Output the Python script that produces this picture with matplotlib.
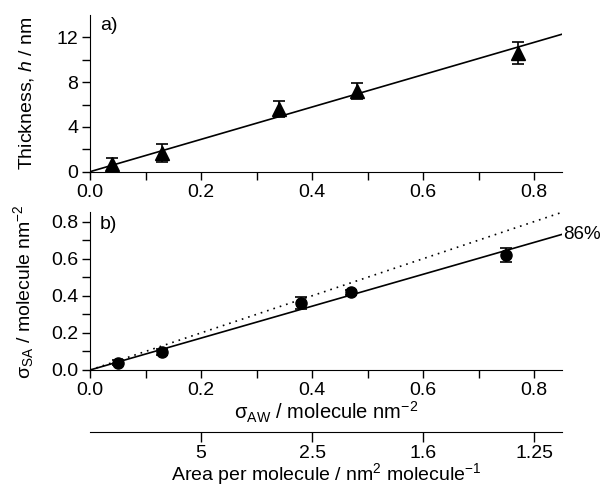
import matplotlib
matplotlib.use("Agg")
import matplotlib.pyplot as plt
import numpy as np

plt.rcParams['font.family'] = ['Liberation Sans', 'DejaVu Sans']
plt.rcParams['mathtext.fontset'] = 'custom'
plt.rcParams['mathtext.rm'] = 'Liberation Sans'
plt.rcParams['mathtext.it'] = 'Liberation Sans:italic'
plt.rcParams['mathtext.sf'] = 'Liberation Sans'
plt.rcParams['font.size'] = 14

# ---- data ----
sigma_aw_a = [0.04, 0.13, 0.34, 0.48, 0.77]
thickness = [0.7, 1.7, 5.6, 7.2, 10.6]
thickness_err = [0.55, 0.8, 0.75, 0.7, 1.0]
thickness_slope = 14.45

sigma_aw_b = [0.05, 0.13, 0.38, 0.47, 0.75]
sigma_sa = [0.04, 0.096, 0.36, 0.418, 0.62]
sigma_sa_err = [0.012, 0.015, 0.032, 0.015, 0.036]
efficiency = 0.86
efficiency_label = "86%"

area_tick_pos = [0.2, 0.4, 0.6, 0.8]
area_tick_labels = ["5", "2.5", "1.6", "1.25"]

xlim = (0, 0.85)

W, H = 602, 486
fig = plt.figure(figsize=(W / 100, H / 100), dpi=100)

def px_axes(left, top, right, bottom):
    return fig.add_axes([left / W, 1 - bottom / H, (right - left) / W, (bottom - top) / H])

axa = px_axes(90, 15, 562, 171.7)
axb = px_axes(90, 212.3, 562, 370)

for ax in (axa, axb):
    ax.spines['top'].set_visible(False)
    ax.spines['right'].set_visible(False)
    ax.set_xlim(*xlim)
    ax.tick_params(which='both', direction='out', length=5.5, width=1, pad=3)
    ax.set_xticks([0, 0.2, 0.4, 0.6, 0.8])
    ax.set_xticks([0.1, 0.3, 0.5, 0.7], minor=True)
    ax.xaxis.set_major_formatter(matplotlib.ticker.FormatStrFormatter('%.1f'))

# panel a
xs = np.array(xlim)
axa.plot(xs, thickness_slope * xs, color='black', lw=1.2)
axa.errorbar(sigma_aw_a, thickness, yerr=thickness_err, fmt='^', color='black',
             ms=10, capsize=4, elinewidth=1.2, capthick=1.2)
axa.set_ylim(0, 14)
axa.set_yticks([0, 4, 8, 12])
axa.set_yticks([2, 6, 10], minor=True)
axa.set_ylabel(r'Thickness, $\mathit{h}$ / nm')
axa.yaxis.set_label_coords(-0.114, 0.5)
axa.text(0.021, 0.936, 'a)', transform=axa.transAxes, ha='left', va='center')

# panel b
axb.plot(xs, xs, color='black', lw=1.2, ls=(0, (1, 3)))
axb.plot(xs, efficiency * xs, color='black', lw=1.2)
axb.errorbar(sigma_aw_b, sigma_sa, yerr=sigma_sa_err, fmt='o', color='black',
             ms=8, capsize=4.5, elinewidth=1.2, capthick=1.2)
axb.set_ylim(0, 0.85)
axb.set_yticks([0, 0.2, 0.4, 0.6, 0.8])
axb.set_yticks([0.1, 0.3, 0.5, 0.7], minor=True)
axb.yaxis.set_major_formatter(matplotlib.ticker.FormatStrFormatter('%.1f'))
axb.set_ylabel('σ$_{\\mathrm{SA}}$ / molecule nm$^{-2}$')
axb.yaxis.set_label_coords(-0.114, 0.5)
axb.set_xlabel('σ$_{\\mathrm{AW}}$ / molecule nm$^{-2}$', labelpad=1, fontsize=14.5)
axb.text(0.021, 0.92, 'b)', transform=axb.transAxes, ha='left', va='center')
axb.text(0.852, efficiency * 0.852, efficiency_label, ha='left', va='center',
         clip_on=False, fontsize=13.5)

# secondary area axis
loc = (370 - 431.7) / (370 - 212.3)
sec = axb.secondary_xaxis(loc)
sec.set_xticks(area_tick_pos, labels=area_tick_labels)
sec.xaxis.set_minor_locator(matplotlib.ticker.NullLocator())
sec.tick_params(direction='out', length=7, width=1, pad=2.5)
sec.set_xlabel(r'Area per molecule / nm$^2$ molecule$^{-1}$', labelpad=-0.5, fontsize=14)

fig.savefig('out.png', dpi=100)
